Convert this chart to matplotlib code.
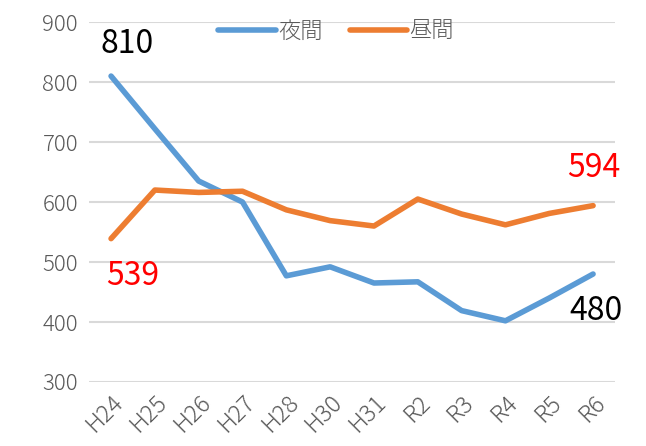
import numpy as np
import matplotlib.pyplot as plt

plt.rcParams['font.family'] = ['Noto Sans CJK JP', 'DejaVu Sans']
plt.rcParams['font.weight'] = 'light'

# data
years = ["H24", "H25", "H26", "H27", "H28", "H30", "H31", "R2", "R3", "R4", "R5", "R6"]
night = [810, 722, 635, 600, 477, 492, 465, 467, 419, 402, 440, 480]
day = [539, 620, 616, 618, 587, 569, 560, 605, 580, 562, 581, 594]

blue = "#5B9BD5"
orange = "#ED7D31"
gray = "#595959"

fig = plt.figure(figsize=(6.46, 4.46), dpi=100)
ax = fig.add_axes([0.138, 0.1435, 0.814, 0.807])

x = np.arange(len(years))
ax.plot(x, night, color=blue, lw=4, label="夜間", solid_capstyle="round")
ax.plot(x, day, color=orange, lw=4, label="昼間", solid_capstyle="round")

ax.set_xlim(-0.5, len(years) - 0.5)
ax.set_ylim(300, 900)
ax.set_yticks(np.arange(300, 901, 100))
ax.set_xticks(x)
ax.set_xticklabels(years, rotation=45, ha="right", rotation_mode="anchor")
ax.tick_params(axis="both", length=0, colors=gray)
ax.tick_params(axis="y", pad=8, labelsize=16)
ax.tick_params(axis="x", pad=6, labelsize=17)
ax.grid(axis="y", color="#D9D9D9", lw=1.5)
ax.set_axisbelow(True)
for s in ax.spines.values():
    s.set_visible(False)

# data labels
def lab(i, vals, text, dx, dy, color):
    ax.annotate(text, (x[i], vals[i]), xytext=(dx, dy), textcoords="offset pixels",
                ha="center", va="center", fontsize=23, color=color, fontweight="normal")

lab(0, night, str(night[0]), 16, 32, "black")
lab(0, day, str(day[0]), 22, -37, "#FF0000")
lab(11, day, str(day[11]), 1, 38, "#FF0000")
lab(11, night, str(night[11]), 3, -37, "black")

leg = ax.legend(loc="upper center", bbox_to_anchor=(0.47, 1.06), ncol=2, frameon=False,
                fontsize=16, handlelength=2.6, handletextpad=0.1, columnspacing=1.2)
for t in leg.get_texts():
    t.set_color(gray)

fig.savefig("out.png", dpi=100)
